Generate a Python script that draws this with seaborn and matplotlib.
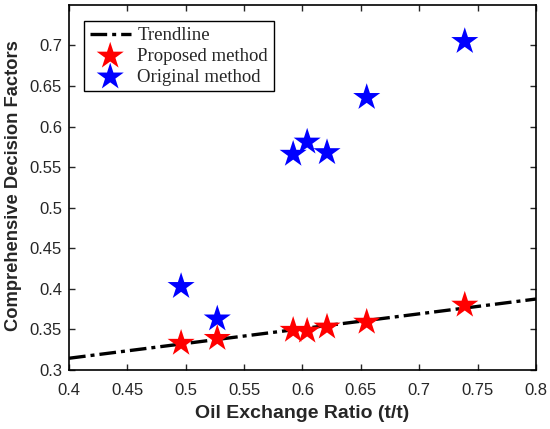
import numpy as np
import pandas as pd
import matplotlib
matplotlib.use("Agg")
import matplotlib.pyplot as plt
import seaborn as sns

# --- data ---
oil_ratio = [0.496, 0.527, 0.592, 0.604, 0.621, 0.655, 0.739]
proposed = [0.333, 0.339, 0.349, 0.348, 0.353, 0.359, 0.380]
original = [0.403, 0.363, 0.566, 0.581, 0.568, 0.636, 0.705]
trend_x = [0.4, 0.8]
trend_y = [0.3145, 0.3875]

x_ticks = [0.4, 0.45, 0.5, 0.55, 0.6, 0.65, 0.7, 0.75, 0.8]
y_ticks = [0.3, 0.35, 0.4, 0.45, 0.5, 0.55, 0.6, 0.65, 0.7]

sns.set_theme(style="ticks")
plt.rcParams["font.family"] = ["Liberation Sans", "DejaVu Sans"]

fig = plt.figure(figsize=(5.5, 4.29), dpi=100)
ax = fig.add_axes([0.1255, 0.1375, 0.849, 0.851])

sns.lineplot(x=trend_x, y=trend_y, ax=ax, color="black", lw=2.4,
             linestyle=(0, (5, 1.5, 1.2, 1.5)), label="Trendline", zorder=2)
sns.scatterplot(x=oil_ratio, y=original, ax=ax, marker="*", s=420,
                color="#0000ff", edgecolor="none", label="Original method", zorder=3)
sns.scatterplot(x=oil_ratio, y=proposed, ax=ax, marker="*", s=420,
                color="#ff0000", edgecolor="none", label="Proposed method", zorder=4)

ax.set_xlim(0.4, 0.8)
ax.set_ylim(0.3, 0.75)
ax.set_xticks(x_ticks)
ax.set_yticks(y_ticks)
ax.set_xticklabels([f"{t:g}" for t in x_ticks])
ax.set_yticklabels([f"{t:g}" for t in y_ticks])
ax.tick_params(direction="in", length=4, width=1, top=True, right=True,
               labelsize=12, colors="#262626", labelcolor="#262626")
ax.tick_params(axis="x", pad=9)
ax.tick_params(axis="y", pad=5)
for sp in ax.spines.values():
    sp.set_visible(True)
    sp.set_linewidth(1.2)
    sp.set_color("black")

ax.set_xlabel("Oil Exchange Ratio (t/t)", fontsize=14, fontweight="bold",
              color="#262626", va="center")
ax.set_ylabel("Comprehensive Decision Factors", fontsize=13.2, fontweight="bold",
              color="#262626", va="center")
ax.xaxis.set_label_coords(0.5, -0.118)
ax.yaxis.set_label_coords(-0.119, 0.505)

handles, labels = ax.get_legend_handles_labels()
order = [labels.index(l) for l in ["Trendline", "Proposed method", "Original method"]]
leg = ax.legend([handles[i] for i in order], [labels[i] for i in order],
                loc="upper left", bbox_to_anchor=(0.032, 0.955),
                prop={"family": "Liberation Serif", "size": 13.5},
                frameon=True, fancybox=False, framealpha=1, edgecolor="black",
                borderpad=0.3, labelspacing=0.2, handlelength=2.2,
                handletextpad=0.35, borderaxespad=0)
leg.get_frame().set_linewidth(1.0)

fig.savefig("out.png", dpi=100)
